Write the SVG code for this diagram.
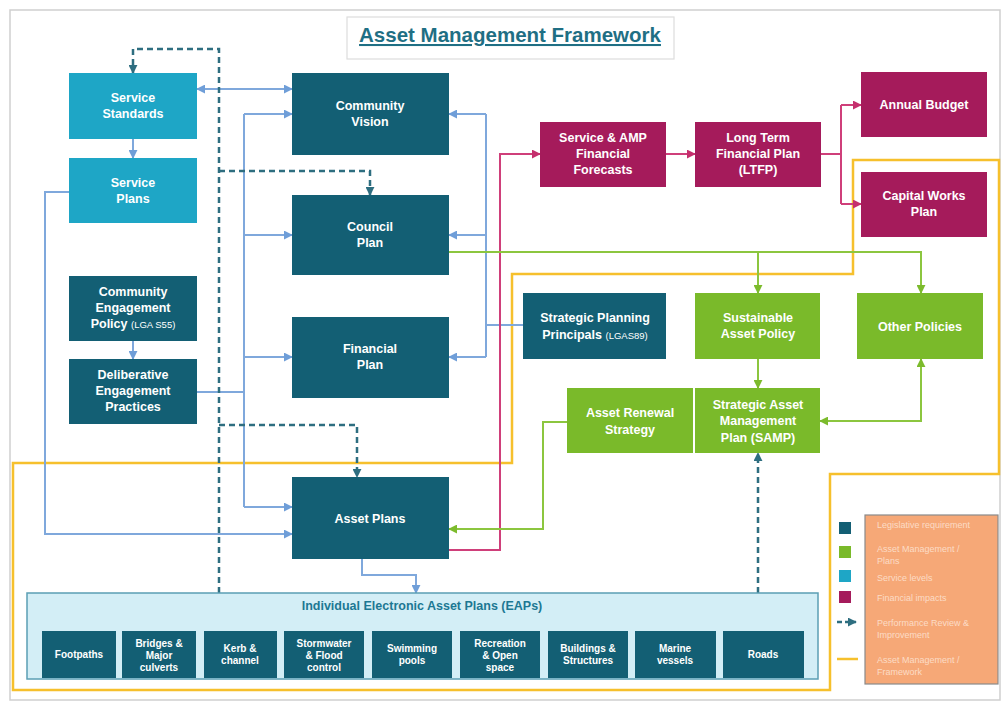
<svg xmlns="http://www.w3.org/2000/svg" width="1001" height="705" viewBox="0 0 1001 705">
  <defs>
    <style>
      .teal { fill: #135f74; }
      .cyan { fill: #1ea6c6; }
      .mag { fill: #a51b5b; }
      .grn { fill: #7aba2a; }
      .lbl { font-family: "Liberation Sans", Arial, sans-serif; font-weight: bold; font-size: 12.5px; fill: #ffffff; text-anchor: middle; }
      .sm { font-size: 9.5px; font-weight: normal; }
      .eap { font-family: "Liberation Sans", Arial, sans-serif; font-weight: bold; font-size: 10px; fill: #ffffff; text-anchor: middle; }
      .blue { fill: none; stroke: #7fa8dc; stroke-width: 2; }
      .green { fill: none; stroke: #8cc63f; stroke-width: 2; }
      .pink { fill: none; stroke: #cf3f7a; stroke-width: 2; }
      .dash { fill: none; stroke: #2e6e80; stroke-width: 2.5; stroke-dasharray: 6 4; }
      .frame { fill: none; stroke: #f6c02c; stroke-width: 2.5; }
      .leg { font-family: "Liberation Sans", Arial, sans-serif; font-size: 9px; fill: #fcdcc6; }
    </style>
    <marker id="aB" viewBox="0 0 10 10" refX="9" refY="5" markerWidth="9" markerHeight="9" markerUnits="userSpaceOnUse" orient="auto-start-reverse">
      <path d="M0,0 L10,5 L0,10 z" fill="#6f9ed8"/>
    </marker>
    <marker id="aG" viewBox="0 0 10 10" refX="9" refY="5" markerWidth="9" markerHeight="9" markerUnits="userSpaceOnUse" orient="auto-start-reverse">
      <path d="M0,0 L10,5 L0,10 z" fill="#7cbb2c"/>
    </marker>
    <marker id="aP" viewBox="0 0 10 10" refX="9" refY="5" markerWidth="9" markerHeight="9" markerUnits="userSpaceOnUse" orient="auto-start-reverse">
      <path d="M0,0 L10,5 L0,10 z" fill="#c52f6d"/>
    </marker>
    <marker id="aD" viewBox="0 0 10 10" refX="9" refY="5" markerWidth="9" markerHeight="9" markerUnits="userSpaceOnUse" orient="auto-start-reverse">
      <path d="M0,0 L10,5 L0,10 z" fill="#2e6e80"/>
    </marker>
  </defs>

  <rect width="1001" height="705" fill="#ffffff"/>
  <rect x="10" y="10" width="990" height="690" fill="none" stroke="#cfcfcf" stroke-width="1.5"/>

  <!-- title -->
  <g id="title">
    <rect x="347" y="17" width="327" height="42" fill="#ffffff" stroke="#dddddd" stroke-width="1.2"/>
    <text x="510" y="42" font-family="Liberation Sans, Arial, sans-serif" font-weight="bold" font-size="20.5" fill="#1f6f84" text-anchor="middle" text-decoration="underline">Asset Management Framework</text>
  </g>

  <!-- asset management framework boundary -->
  <path class="frame" d="M853,160 H999 V474 H830 V690 H13 V463 H512 V274 H853 Z"/>

  <!-- connectors -->
  <g id="connectors">
    <!-- blue: planning links -->
    <path class="blue" d="M197,89 H292" marker-start="url(#aB)" marker-end="url(#aB)"/>
    <path class="blue" d="M133,139 V158" marker-end="url(#aB)"/>
    <path class="blue" d="M133,341 V359" marker-end="url(#aB)"/>
    <path class="blue" d="M69,192 H45 V534 H292" marker-end="url(#aB)"/>
    <path class="blue" d="M197,392 H244"/>
    <path class="blue" d="M244,114 V507"/>
    <path class="blue" d="M244,114 H292" marker-end="url(#aB)"/>
    <path class="blue" d="M244,235 H292" marker-end="url(#aB)"/>
    <path class="blue" d="M244,357 H292" marker-end="url(#aB)"/>
    <path class="blue" d="M244,507 H292" marker-end="url(#aB)"/>
    <path class="blue" d="M523,325 H486"/>
    <path class="blue" d="M486,114 V357"/>
    <path class="blue" d="M486,114 H449" marker-end="url(#aB)"/>
    <path class="blue" d="M486,235 H449" marker-end="url(#aB)"/>
    <path class="blue" d="M486,357 H449" marker-end="url(#aB)"/>
    <path class="blue" d="M362,559 V575 H416 V593" marker-end="url(#aB)"/>

    <!-- pink: financial links -->
    <path class="pink" d="M449,550 H500 V154 H540" marker-end="url(#aP)"/>
    <path class="pink" d="M666,154 H695" marker-end="url(#aP)"/>
    <path class="pink" d="M821,154 H841"/>
    <path class="pink" d="M841,105 V204"/>
    <path class="pink" d="M841,105 H861" marker-end="url(#aP)"/>
    <path class="pink" d="M841,204 H861" marker-end="url(#aP)"/>

    <!-- green: asset management links -->
    <path class="green" d="M449,252 H921 V293" marker-end="url(#aG)"/>
    <path class="green" d="M758,252 V293" marker-end="url(#aG)"/>
    <path class="green" d="M758,359 V388" marker-end="url(#aG)"/>
    <path class="green" d="M820,421 H921 V359" marker-start="url(#aG)" marker-end="url(#aG)"/>
    <path class="green" d="M567,422 H543 V529 H449" marker-end="url(#aG)"/>

    <!-- dashed: performance review -->
    <path class="dash" d="M219,593 V49 H133 V73" marker-end="url(#aD)"/>
    <path class="dash" d="M219,171 H370 V195" marker-end="url(#aD)"/>
    <path class="dash" d="M219,425 H357 V477" marker-end="url(#aD)"/>
    <path class="dash" d="M758,593 V453" marker-end="url(#aD)"/>
  </g>

  <!-- nodes -->
  <g id="service-standards">
    <rect class="cyan" x="69" y="73" width="128" height="66"/>
    <text class="lbl" x="133" y="102">Service</text>
    <text class="lbl" x="133" y="118">Standards</text>
  </g>
  <g id="service-plans">
    <rect class="cyan" x="69" y="158" width="128" height="65"/>
    <text class="lbl" x="133" y="187">Service</text>
    <text class="lbl" x="133" y="203">Plans</text>
  </g>
  <g id="community-engagement-policy">
    <rect class="teal" x="69" y="276" width="128" height="65"/>
    <text class="lbl" x="133" y="296">Community</text>
    <text class="lbl" x="133" y="312">Engagement</text>
    <text class="lbl" x="133" y="328">Policy <tspan class="sm">(LGA S55)</tspan></text>
  </g>
  <g id="deliberative-engagement">
    <rect class="teal" x="69" y="359" width="128" height="65"/>
    <text class="lbl" x="133" y="379">Deliberative</text>
    <text class="lbl" x="133" y="395">Engagement</text>
    <text class="lbl" x="133" y="411">Practices</text>
  </g>
  <g id="community-vision">
    <rect class="teal" x="292" y="73" width="157" height="82"/>
    <text class="lbl" x="370" y="110">Community</text>
    <text class="lbl" x="370" y="126">Vision</text>
  </g>
  <g id="council-plan">
    <rect class="teal" x="292" y="195" width="157" height="80"/>
    <text class="lbl" x="370" y="231">Council</text>
    <text class="lbl" x="370" y="247">Plan</text>
  </g>
  <g id="financial-plan">
    <rect class="teal" x="292" y="317" width="157" height="81"/>
    <text class="lbl" x="370" y="353">Financial</text>
    <text class="lbl" x="370" y="369">Plan</text>
  </g>
  <g id="asset-plans">
    <rect class="teal" x="292" y="477" width="157" height="82"/>
    <text class="lbl" x="370" y="523">Asset Plans</text>
  </g>
  <g id="financial-forecasts">
    <rect class="mag" x="540" y="122" width="126" height="65"/>
    <text class="lbl" x="603" y="142">Service &amp; AMP</text>
    <text class="lbl" x="603" y="158">Financial</text>
    <text class="lbl" x="603" y="174">Forecasts</text>
  </g>
  <g id="ltfp">
    <rect class="mag" x="695" y="122" width="126" height="65"/>
    <text class="lbl" x="758" y="142">Long Term</text>
    <text class="lbl" x="758" y="158">Financial Plan</text>
    <text class="lbl" x="758" y="174">(LTFP)</text>
  </g>
  <g id="annual-budget">
    <rect class="mag" x="861" y="72" width="126" height="65"/>
    <text class="lbl" x="924" y="109">Annual Budget</text>
  </g>
  <g id="capital-works-plan">
    <rect class="mag" x="861" y="172" width="126" height="65"/>
    <text class="lbl" x="924" y="200">Capital Works</text>
    <text class="lbl" x="924" y="216">Plan</text>
  </g>
  <g id="strategic-planning-principals">
    <rect class="teal" x="523" y="293" width="143" height="66"/>
    <text class="lbl" x="595" y="322">Strategic Planning</text>
    <text class="lbl" x="595" y="339">Principals <tspan class="sm">(LGAS89)</tspan></text>
  </g>
  <g id="sustainable-asset-policy">
    <rect class="grn" x="695" y="293" width="125" height="66"/>
    <text class="lbl" x="758" y="322">Sustainable</text>
    <text class="lbl" x="758" y="338">Asset Policy</text>
  </g>
  <g id="other-policies">
    <rect class="grn" x="857" y="293" width="126" height="66"/>
    <text class="lbl" x="920" y="331">Other Policies</text>
  </g>
  <g id="asset-renewal-strategy">
    <rect class="grn" x="567" y="388" width="126" height="65"/>
    <text class="lbl" x="630" y="417">Asset Renewal</text>
    <text class="lbl" x="630" y="434">Strategy</text>
  </g>
  <g id="samp">
    <rect class="grn" x="695" y="388" width="125" height="65"/>
    <text class="lbl" x="758" y="409">Strategic Asset</text>
    <text class="lbl" x="758" y="425">Management</text>
    <text class="lbl" x="758" y="442">Plan (SAMP)</text>
  </g>

  <!-- individual electronic asset plans -->
  <g id="eaps">
    <rect x="27" y="593" width="791" height="86" fill="#d3eef6" stroke="#5b9fb4" stroke-width="1.5"/>
    <text x="422" y="610" font-family="Liberation Sans, Arial, sans-serif" font-weight="bold" font-size="12.5" fill="#1c7893" text-anchor="middle">Individual Electronic Asset Plans (EAPs)</text>
  </g>
  <g id="eap-footpaths">
    <rect class="teal" x="42" y="631" width="74" height="47"/>
    <text class="eap" x="79" y="658">Footpaths</text>
  </g>
  <g id="eap-bridges">
    <rect class="teal" x="122" y="631" width="74" height="47"/>
    <text class="eap" x="159" y="647">Bridges &amp;</text>
    <text class="eap" x="159" y="659">Major</text>
    <text class="eap" x="159" y="671">culverts</text>
  </g>
  <g id="eap-kerb">
    <rect class="teal" x="204" y="631" width="73" height="47"/>
    <text class="eap" x="240" y="652">Kerb &amp;</text>
    <text class="eap" x="240" y="664">channel</text>
  </g>
  <g id="eap-stormwater">
    <rect class="teal" x="284" y="631" width="80" height="47"/>
    <text class="eap" x="324" y="647">Stormwater</text>
    <text class="eap" x="324" y="659">&amp; Flood</text>
    <text class="eap" x="324" y="671">control</text>
  </g>
  <g id="eap-swimming">
    <rect class="teal" x="372" y="631" width="80" height="47"/>
    <text class="eap" x="412" y="652">Swimming</text>
    <text class="eap" x="412" y="664">pools</text>
  </g>
  <g id="eap-recreation">
    <rect class="teal" x="460" y="631" width="80" height="47"/>
    <text class="eap" x="500" y="647">Recreation</text>
    <text class="eap" x="500" y="659">&amp; Open</text>
    <text class="eap" x="500" y="671">space</text>
  </g>
  <g id="eap-buildings">
    <rect class="teal" x="548" y="631" width="80" height="47"/>
    <text class="eap" x="588" y="652">Buildings &amp;</text>
    <text class="eap" x="588" y="664">Structures</text>
  </g>
  <g id="eap-marine">
    <rect class="teal" x="635" y="631" width="81" height="47"/>
    <text class="eap" x="675" y="652">Marine</text>
    <text class="eap" x="675" y="664">vessels</text>
  </g>
  <g id="eap-roads">
    <rect class="teal" x="723" y="631" width="81" height="47"/>
    <text class="eap" x="763" y="658">Roads</text>
  </g>

  <!-- legend -->
  <g id="legend">
    <rect x="865" y="515" width="133" height="169" fill="#f6a877" stroke="#8a8a8a" stroke-width="1.2"/>
    <rect x="839" y="522" width="12" height="12" fill="#135f74"/>
    <rect x="839" y="546" width="12" height="12" fill="#7aba2a"/>
    <rect x="839" y="570" width="12" height="12" fill="#1ea6c6"/>
    <rect x="839" y="591" width="12" height="12" fill="#a51b5b"/>
    <path d="M837,622 H856" stroke="#2e6e80" stroke-width="2.5" stroke-dasharray="5 3" marker-end="url(#aD)"/>
    <path d="M837,659 H858" stroke="#f6c02c" stroke-width="2.5"/>
    <text class="leg" x="877" y="528">Legislative requirement</text>
    <text class="leg" x="877" y="552">Asset Management /</text>
    <text class="leg" x="877" y="564">Plans</text>
    <text class="leg" x="877" y="581">Service levels</text>
    <text class="leg" x="877" y="601">Financial impacts</text>
    <text class="leg" x="877" y="626">Performance Review &amp;</text>
    <text class="leg" x="877" y="638">Improvement</text>
    <text class="leg" x="877" y="663">Asset Management /</text>
    <text class="leg" x="877" y="675">Framework</text>
  </g>
</svg>
